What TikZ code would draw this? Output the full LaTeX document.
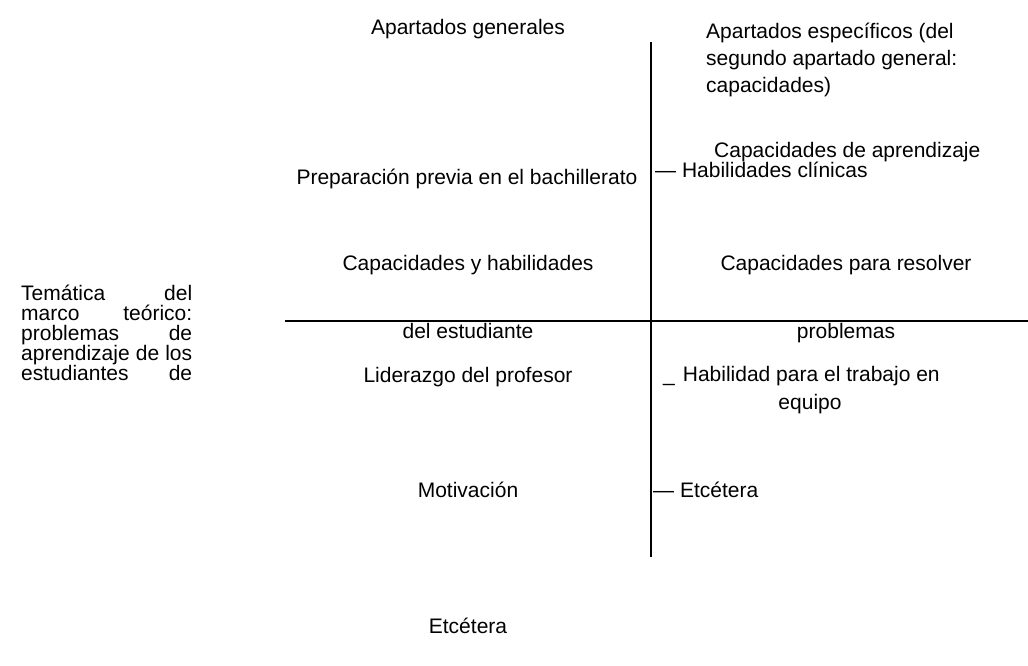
\documentclass[tikz,border=0pt]{standalone}
\usepackage{fontspec}
\setmainfont{Liberation Sans}
\tikzset{
  axis/.style={line width=1.6pt,draw=black},
  txt/.style={inner sep=0pt,anchor=base},
  txtl/.style={inner sep=0pt,anchor=base west},
  blockline/.style={inner sep=0pt,anchor=base west}
}

\begin{document}
\begin{tikzpicture}[x=1pt,y=-1pt,every node/.style={font=\fontsize{21}{24}\selectfont}]
  \useasboundingbox (0,0) rectangle (1028,665);
  \coordinate (vtop) at (651,42);
  \coordinate (vbot) at (651,557);
  \coordinate (hleft) at (285,321);
  \coordinate (hright) at (1028,321);

  \draw[axis] (vtop)--(vbot);
  \draw[axis] (hleft)--(hright);

  % left column
  \node[blockline] (lt1) at (21,300) {\makebox[171pt][s]{Temática\hfill del}};
  \node[blockline] (lt2) at (21,320) {\makebox[171pt][s]{marco\hfill teórico:}};
  \node[blockline] (lt3) at (21,340) {\makebox[171pt][s]{problemas\hfill de}};
  \node[blockline] (lt4) at (21,360) {\makebox[171pt][s]{aprendizaje de los}};
  \node[blockline] (lt5) at (21,380) {\makebox[171pt][s]{estudiantes\hfill de}};

  % general sections
  \node[txt] (gen) at (468,34) {Apartados generales};
  \node[txt] (prep) at (467,184) {Preparación previa en el bachillerato};
  \node[txt] (cap1) at (468,270) {Capacidades y habilidades};
  \node[txt] (cap2) at (468,338) {del estudiante};
  \node[txt] (lid) at (468,382) {Liderazgo del profesor};
  \node[txt] (mot) at (468,497) {Motivación};
  \node[txt] (etc) at (468,633) {Etcétera};

  % specific sections
  \node[txtl] (esp1) at (706,38) {Apartados específicos (del};
  \node[txtl] (esp2) at (706,65) {segundo apartado general:};
  \node[txtl] (esp3) at (706,92) {capacidades)};
  \node[txtl] (apr) at (714,157) {Capacidades de aprendizaje};
  \node[txtl] (cli) at (655,177) {— Habilidades clínicas};
  \node[txt] (res1) at (846,270) {Capacidades para resolver};
  \node[txt] (res2) at (846,338) {problemas};
  \node[txtl] (equ1) at (663,381) {\_\hspace{8pt}Habilidad para el trabajo en};
  \node[txt] (equ2) at (810,409) {equipo};
  \node[txtl] (etc2) at (653,497) {— Etcétera};
\end{tikzpicture}
\end{document}
